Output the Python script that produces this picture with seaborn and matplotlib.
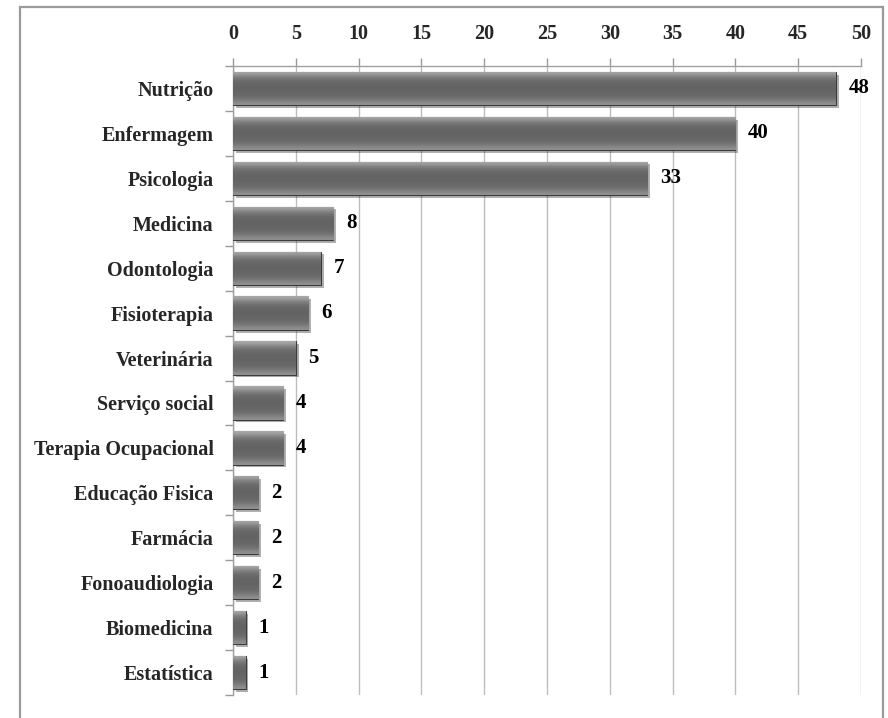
import matplotlib
matplotlib.use("Agg")
import matplotlib.pyplot as plt
import matplotlib.patheffects as pe
from matplotlib.patches import Rectangle
from matplotlib.ticker import FixedLocator
import numpy as np
import pandas as pd
import seaborn as sns

# Data
cursos = ["Nutrição", "Enfermagem", "Psicologia", "Medicina", "Odontologia",
          "Fisioterapia", "Veterinária", "Serviço social", "Terapia Ocupacional",
          "Educação Fisica", "Farmácia", "Fonoaudiologia", "Biomedicina", "Estatística"]
quantidade = [48, 40, 33, 8, 7, 6, 5, 4, 4, 2, 2, 2, 1, 1]
x_ticks = list(range(0, 51, 5))

df = pd.DataFrame({"curso": cursos, "n": quantidade})

sns.set_theme(style="white")
plt.rcParams["font.family"] = ["Liberation Serif", "DejaVu Serif"]
plt.rcParams["font.weight"] = "bold"

fig = plt.figure(figsize=(8.88, 7.18), dpi=100)
ax = fig.add_axes([0.2624, 0.032, 0.9696 - 0.2624, 0.9081 - 0.032])

sns.barplot(data=df, x="n", y="curso", orient="h", color="#606060",
            width=0.74, saturation=1, edgecolor="#3c3c3c", linewidth=0.8, ax=ax, zorder=3)

# bevel-like shading + drop shadow on each bar
grad = np.array([0.66, 0.52, 0.44, 0.40, 0.39, 0.39, 0.40, 0.42, 0.47, 0.56]).reshape(-1, 1)
for p in ax.patches:
    x0, y0 = p.get_x(), p.get_y()
    w, h = p.get_width(), p.get_height()
    im = ax.imshow(grad, cmap="gray", vmin=0, vmax=1, aspect="auto",
                   extent=(x0, x0 + w, y0 + h, y0), zorder=3.5, interpolation="bicubic")
    im.set_clip_path(p)
    p.set_path_effects([pe.SimplePatchShadow(offset=(2, -2), alpha=0.35), pe.Normal()])

for i, v in enumerate(quantidade):
    ax.annotate(str(v), xy=(v, i), xytext=(9, 0), textcoords="offset points",
                ha="left", va="center", fontsize=15, fontweight="bold", color="black", zorder=5)

ax.set_xlim(0, 50)
ax.set_ylim(len(cursos) - 0.5, -0.5)
ax.xaxis.tick_top()
ax.set_xticks(x_ticks)
ax.set_xlabel("")
ax.set_ylabel("")
ax.tick_params(axis="x", top=True, direction="out", length=6, width=1, color="#999999",
               pad=10, labelsize=14.5)
ax.tick_params(axis="y", which="major", length=0, pad=14, labelsize=14.5)
ax.yaxis.set_minor_locator(FixedLocator(np.arange(-0.5, len(cursos), 1.0)))
ax.tick_params(axis="y", which="minor", left=True, direction="out", length=6, width=1, color="#999999")
for lab in ax.get_xticklabels() + ax.get_yticklabels():
    lab.set_fontweight("bold")

ax.grid(axis="x", color="#bdbdbd", linewidth=1, zorder=0)
ax.set_axisbelow(True)
for side in ["bottom", "right"]:
    ax.spines[side].set_visible(False)
for side in ["top", "left"]:
    ax.spines[side].set_color("#a0a0a0")
    ax.spines[side].set_linewidth(1)

# outer chart frame
fig.patches.append(Rectangle((0.0225, -0.05), 0.972, 1.04, transform=fig.transFigure,
                             fill=False, edgecolor="#9a9a9a", linewidth=1.6))

fig.savefig("out.png", dpi=100)
